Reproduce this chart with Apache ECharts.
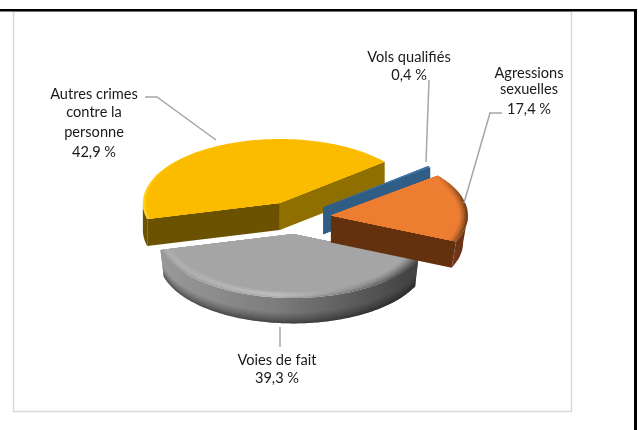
<!DOCTYPE html>
<html><head><meta charset="utf-8">
<style>html,body{margin:0;padding:0;background:#fff}#c{width:639px;height:430px}</style>
<script src="https://cdn.jsdelivr.net/npm/echarts@6/dist/echarts.min.js"></script>
</head><body><div id="c"></div>
<script>
const categories = ['Autres crimes contre la personne', 'Vols qualifiés', 'Agressions sexuelles', 'Voies de fait'];
const shares = [42.9, 0.4, 17.4, 39.3];
const labelLines = [['Autres crimes', 'contre la', 'personne'], ['Vols qualifiés'], ['Agressions', 'sexuelles'], ['Voies de fait']];

// Layout / styling, separate from the data
const FONT = '14.6px Lato, "Open Sans", sans-serif';
const START = 194.5, A = 137, B = 64, DEPTH = 27, EXPLODE = 0.257, CX = 296, CY = 217.6;
const labelX = [94, 409, 529, 277];
const labelY = [[94, 112, 132, 152], [57, 75], [73, 89, 109], [360, 378]];
const leaders = [
  [[145, 97], [157, 97], [216, 140]],
  [[429, 80], [426, 162]],
  [[502, 113], [490, 113], [464, 203]],
  [[280, 327], [280, 347]]
];
const bandSteps = [.6, .68, .75, .81, .86, .9, .94, .97];
const hg = (l, m, r, o) => ({type: 'linear', x: 0, y: 0, x2: 1, y2: 0, colorStops: [{offset: 0, color: l}, {offset: o || .45, color: m}, {offset: 1, color: r}]});
const styles = [
  {top: '#fbbc00', outer: '#6b5200', wallA: '#6b5200', wallB: '#8f6f00', taper: 1,
   rim: [[1, hg('#ffd21a', '#fcc000', '#fbbc00', .1)], [.98, '#fbbc00']]},
  {top: '#3f76a8', outer: '#2c5a82', wallA: '#2f5d85', wallB: '#2f5d85', taper: 1, rim: []},
  {top: '#ed7d31', outer: hg('#7a3c18', '#6a3315', '#6a3315'), wallA: '#64310f', wallB: '#64310f', taper: .965,
   rim: [[1, hg('#ed7d31', '#ed7d31', '#6e3a18', .76)], [.985, hg('#ed7d31', '#ed7d31', '#93501f', .78)], [.97, hg('#ed7d31', '#ed7d31', '#b8642a', .8)],
         [.955, hg('#ed7d31', '#ed7d31', '#d87230', .82)], [.94, '#ed7d31']]},
  {top: '#a5a5a5', outer: hg('#9a9a9a', '#7c7c7c', '#404040'), wallA: '#888', wallB: '#888', band: 'rgba(20,20,20,.085)', taper: .975,
   rim: [[1, hg('#989898', '#a8a8a8', '#4a4a4a')], [.988, hg('#a0a0a0', '#b4b4b4', '#585858')], [.975, hg('#a8a8a8', '#bcbcbc', '#666666')], [.96, hg('#acacac', '#bebebe', '#747474')],
         [.945, hg('#acacac', '#b9b9b9', '#828282')], [.93, hg('#a9a9a9', '#b2b2b2', '#8f8f8f')], [.915, hg('#a7a7a7', '#abacac', '#9a9a9a')], [.9, '#a5a5a5']]}
];
const drawOrder = [0, 1, 3, 2];

const rad = d => d * Math.PI / 180;
const total = shares.reduce((a, b) => a + b, 0);
const ranges = [];
let cursor = START;
shares.forEach(v => { const sw = v / total * 360; ranges.push([cursor, cursor - sw]); cursor -= sw; });

function renderSlice(params) {
  const i = drawOrder[params.dataIndex], [t0, t1] = ranges[i], st = styles[i], mid = (t0 + t1) / 2;
  const cx = CX + EXPLODE * A * Math.cos(rad(mid)), cy = CY - EXPLODE * B * Math.sin(rad(mid));
  const P = (t, r, z) => [cx + A * r * Math.cos(rad(t)), cy - B * r * Math.sin(rad(t)) + z];
  const arc = (a, b, r, z) => { const n = Math.max(2, Math.ceil(Math.abs(a - b))), o = []; for (let k = 0; k <= n; k++) o.push(P(a + (b - a) * k / n, r, z)); return o; };
  const poly = (points, fill) => ({type: 'polygon', shape: {points}, style: {fill, stroke: null}, silent: true});
  const kids = [];
  kids.push(poly([P(0, 0, 0), P(t0, 1, 0), P(t0, st.taper, DEPTH), P(0, 0, DEPTH)], st.wallA));
  kids.push(poly([P(0, 0, 0), P(t1, 1, 0), P(t1, st.taper, DEPTH), P(0, 0, DEPTH)], st.wallB));
  // outer wall: the part of the rim that faces the viewer
  const hi = t0 > 180 ? [t0, 180] : null;
  const lo = [Math.min(t0, 0), Math.max(t1, -180)];
  [hi, lo[0] > lo[1] ? lo : null].forEach(seg => {
    if (!seg) return;
    const top = arc(seg[0], seg[1], 1, 0), bot = arc(seg[0], seg[1], st.taper, DEPTH).reverse();
    kids.push(poly(top.concat(bot), st.outer));
    if (st.band) bandSteps.forEach(f => {
      const rr = 1 + (st.taper - 1) * f;
      kids.push(poly(arc(seg[0], seg[1], rr, DEPTH * f).concat(bot), st.band));
    });
  });
  const sector = (r, fill) => poly([P(0, 0, 0)].concat(arc(t0, t1, r, 0)), fill);
  st.rim.forEach(([r, fill]) => kids.push(sector(r, fill)));
  kids.push(sector(st.rim.length ? st.rim[st.rim.length - 1][0] : 1, st.top));
  return {type: 'group', children: kids};
}

function renderLabel(params) {
  const i = params.dataIndex, kids = [];
  kids.push({type: 'polyline', shape: {points: leaders[i]}, style: {stroke: '#a6a6a6', lineWidth: 1.5, fill: null}, silent: true});
  const lines = labelLines[i].concat(String(shares[i]).replace('.', ',') + ' %');
  lines.forEach((text, k) => kids.push({type: 'text', style: {text, x: labelX[i], y: labelY[i][k], font: FONT, fill: '#1a1a1a', align: 'center', verticalAlign: 'middle'}, silent: true}));
  return {type: 'group', children: kids};
}

const chart = echarts.init(document.getElementById('c'), null, {renderer: 'canvas'});
chart.setOption({
  animation: false,
  backgroundColor: '#fff',
  graphic: [
    {type: 'rect', shape: {x: 13.5, y: 11, width: 558, height: 400.5}, style: {fill: '#fff', stroke: '#d9d9d9', lineWidth: 1.5}, z: -1},
    {type: 'rect', shape: {x: 0, y: 9, width: 637, height: 2.5}, style: {fill: '#000'}, z: 10},
    {type: 'rect', shape: {x: 634, y: 9, width: 3, height: 421}, style: {fill: '#000'}, z: 10}
  ],
  series: [
    {type: 'custom', coordinateSystem: 'none', renderItem: renderSlice, clip: false, silent: true, data: drawOrder.map(i => ({name: categories[i], value: shares[i]})), z: 2},
    {type: 'custom', coordinateSystem: 'none', renderItem: renderLabel, clip: false, silent: true, data: categories.map((c, i) => ({name: c, value: shares[i]})), z: 3}
  ]
});
</script></body></html>
